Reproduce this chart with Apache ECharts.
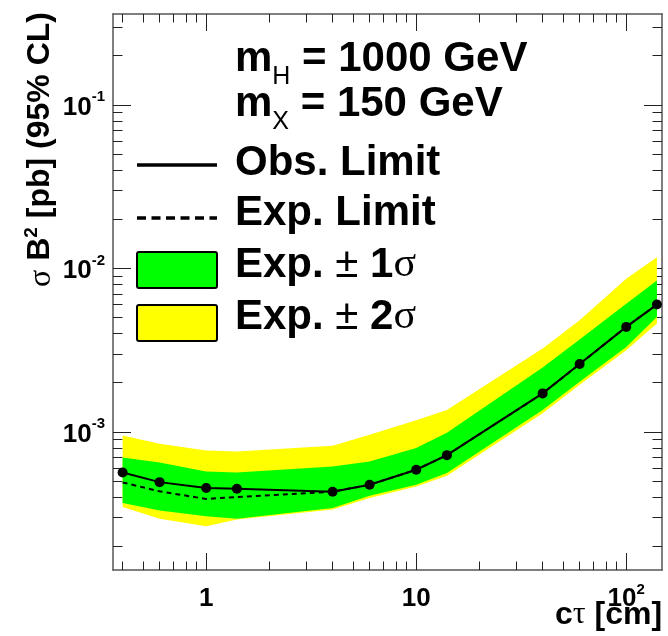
<!DOCTYPE html>
<html>
<head>
<meta charset="utf-8">
<script src="https://cdn.jsdelivr.net/npm/echarts@6/dist/echarts.min.js"></script>
<style>
  html, body { margin: 0; padding: 0; background: #fff; }
  #chart { width: 668px; height: 636px; }
</style>
</head>
<body>
<div id="chart"></div>
<script>
// ---- data ----
const CT = [0.4, 0.6, 1, 1.4, 4, 6, 10, 14, 40, 60, 100, 140];
const OBS = [5.65e-4, 4.93e-4, 4.54e-4, 4.49e-4, 4.31e-4, 4.75e-4, 5.87e-4, 7.21e-4, 1.72e-3, 2.60e-3, 4.39e-3, 6.01e-3];
const EXP = [4.91e-4, 4.33e-4, 3.89e-4, 4.00e-4, 4.31e-4, 4.75e-4, 5.87e-4, 7.21e-4, 1.72e-3, 2.60e-3, 4.39e-3, 6.01e-3];
const ONE_HI = [6.97e-4, 6.50e-4, 5.73e-4, 5.65e-4, 6.14e-4, 6.59e-4, 7.98e-4, 9.90e-4, 2.48e-3, 3.67e-3, 6.09e-3, 8.45e-3];
const ONE_LO = [3.67e-4, 3.31e-4, 3.05e-4, 2.94e-4, 3.43e-4, 4.07e-4, 4.75e-4, 5.60e-4, 1.36e-3, 2.03e-3, 3.31e-3, 5.05e-3];
const TWO_HI = [9.50e-4, 8.45e-4, 7.69e-4, 7.59e-4, 8.22e-4, 9.60e-4, 1.18e-3, 1.36e-3, 3.24e-3, 4.82e-3, 8.65e-3, 1.17e-2];
const TWO_LO = [3.47e-4, 2.94e-4, 2.65e-4, 2.91e-4, 3.35e-4, 3.94e-4, 4.64e-4, 5.39e-4, 1.30e-3, 1.94e-3, 3.16e-3, 4.60e-3];

// axis ticks
const X_MAJOR = [1, 10, 100];
const X_MINOR = [0.4, 0.5, 0.6, 0.7, 0.8, 0.9, 2, 3, 4, 5, 6, 7, 8, 9, 20, 30, 40, 50, 60, 70, 80, 90];
const Y_MAJOR = [1e-3, 1e-2, 1e-1];
const Y_MINOR = [2e-4, 3e-4, 4e-4, 5e-4, 6e-4, 7e-4, 8e-4, 9e-4,
                 2e-3, 3e-3, 4e-3, 5e-3, 6e-3, 7e-3, 8e-3, 9e-3,
                 2e-2, 3e-2, 4e-2, 5e-2, 6e-2, 7e-2, 8e-2, 9e-2, 2e-1, 3e-1];
const X_MIN = 0.36, X_MAX = 148;
const Y_MIN = 1.43e-4, Y_MAX = 0.36;

const SANS = "'Liberation Sans', Arial, sans-serif";
const SERIF = "'Liberation Serif', 'Times New Roman', serif";
const FRAME = '#555';

const chart = echarts.init(document.getElementById('chart'), null, { renderer: 'canvas' });

// band between lo and hi, drawn as one polygon through the axis scales
function band(name, lo, hi, color, z) {
  return {
    name, type: 'custom', silent: true, z,
    data: CT.map((x, i) => [x, lo[i], hi[i]]),
    encode: { x: 0, y: [1, 2] },
    renderItem: (params, api) => {
      if (params.dataIndex !== 0) return;
      const pts = [];
      CT.forEach((x, i) => pts.push(api.coord([x, hi[i]])));
      for (let i = CT.length - 1; i >= 0; i--) pts.push(api.coord([CT[i], lo[i]]));
      return { type: 'polygon', shape: { points: pts }, style: { fill: color } };
    }
  };
}

const pow10 = (v) => Math.round(Math.log10(v));
const labelRich = {
  m: { fontFamily: SANS, fontSize: 26, fontWeight: 'bold', color: '#000', lineHeight: 30, verticalAlign: 'bottom' },
  s: { fontFamily: SANS, fontSize: 15, fontWeight: 'bold', color: '#000', lineHeight: 17, verticalAlign: 'top' }
};
const yRich = {
  m: { fontFamily: SANS, fontSize: 26, fontWeight: 'bold', color: '#000', lineHeight: 30, padding: [7, 0, 0, 0], verticalAlign: 'bottom' },
  s: { fontFamily: SANS, fontSize: 15, fontWeight: 'bold', color: '#000', lineHeight: 31, verticalAlign: 'top' }
};

function logAxis(kind, pos, min, max, ticks, len, opts) {
  return Object.assign({
    type: 'log', logBase: 10, position: pos, min, max,
    axisLine: { show: false },
    axisTick: { show: true, inside: true, length: len, customValues: ticks, lineStyle: { color: '#222', width: 1 } },
    axisLabel: { show: false },
    splitLine: { show: false },
    minorTick: { show: false }
  }, opts || {});
}

const xAxes = [
  logAxis('x', 'bottom', X_MIN, X_MAX, X_MAJOR, 17, {
    axisLine: { show: true, onZero: false, lineStyle: { color: FRAME, width: 1.5 } },
    axisLabel: {
      show: true, customValues: X_MAJOR, margin: 12,
      formatter: (v) => { const p = pow10(v); return p === 0 ? '{m|1}' : p === 1 ? '{m|10}' : '{m|10}{s|' + p + '}'; },
      rich: labelRich
    }
  }),
  logAxis('x', 'bottom', X_MIN, X_MAX, X_MINOR, 8.5),
  logAxis('x', 'top', X_MIN, X_MAX, X_MAJOR, 17, { axisLine: { show: true, onZero: false, lineStyle: { color: FRAME, width: 1.5 } } }),
  logAxis('x', 'top', X_MIN, X_MAX, X_MINOR, 8.5)
];
const yAxes = [
  logAxis('y', 'left', Y_MIN, Y_MAX, Y_MAJOR, 18, {
    axisLine: { show: true, onZero: false, lineStyle: { color: FRAME, width: 1.5 } },
    axisLabel: {
      show: true, customValues: Y_MAJOR, margin: 8,
      formatter: (v) => '{m|10}{s|' + pow10(v) + '}',
      rich: yRich
    }
  }),
  logAxis('y', 'left', Y_MIN, Y_MAX, Y_MINOR, 9.5),
  logAxis('y', 'right', Y_MIN, Y_MAX, Y_MAJOR, 18, { axisLine: { show: true, onZero: false, lineStyle: { color: FRAME, width: 1.5 } } }),
  logAxis('y', 'right', Y_MIN, Y_MAX, Y_MINOR, 9.5)
];

// text runs measured on a canvas, placed by baseline
const mctx = document.createElement('canvas').getContext('2d');
function runs(parts, x0, base) {
  const out = [];
  let x = x0;
  parts.forEach((p) => {
    const font = (p.weight || 'bold') + ' ' + p.size + 'px ' + (p.family || SANS);
    mctx.font = font;
    const w = mctx.measureText(p.t).width;
    out.push({
      type: 'text', x: x, y: base + (p.dy || 0) - 0.35 * p.size, silent: true, z: 100,
      style: { text: p.t, font: font, fill: '#000', align: 'left', verticalAlign: 'middle' }
    });
    x += w;
  });
  return out;
}

const LX = 235, BIG = 42;
const graphics = [].concat(
  runs([{ t: 'm', size: BIG }, { t: 'H', size: 25, weight: 'normal', dy: 12 }, { t: ' = 1000 GeV', size: BIG }], LX, 74),
  runs([{ t: 'm', size: BIG }, { t: 'X', size: 25, weight: 'normal', dy: 12 }, { t: ' = 150 GeV', size: BIG }], LX, 119),
  runs([{ t: 'Obs. Limit', size: BIG }], LX, 178),
  runs([{ t: 'Exp. Limit', size: BIG }], LX, 228),
  runs([{ t: 'Exp. ', size: BIG }, { t: '\u00b1 ', size: BIG, weight: 'normal' }, { t: '1', size: BIG }, { t: '\u03c3', size: BIG, weight: 'normal', family: SERIF }], LX, 280),
  runs([{ t: 'Exp. ', size: BIG }, { t: '\u00b1 ', size: BIG, weight: 'normal' }, { t: '2', size: BIG }, { t: '\u03c3', size: BIG, weight: 'normal', family: SERIF }], LX, 332),
  runs([{ t: 'c', size: 32 }, { t: '\u03c4', size: 32, weight: 'normal', family: SERIF }, { t: ' [cm]', size: 32 }], 555, 626),
  [
    // legend symbols
    { type: 'line', silent: true, z: 100, shape: { x1: 137, y1: 165, x2: 217, y2: 165 }, style: { stroke: '#000', lineWidth: 3.5 } },
    { type: 'line', silent: true, z: 100, shape: { x1: 137, y1: 218, x2: 217, y2: 218 }, style: { stroke: '#000', lineWidth: 3.5, lineDash: [9, 5.5] } },
    { type: 'rect', silent: true, z: 100, shape: { x: 137, y: 252, width: 80, height: 36, r: 2 }, style: { fill: '#00ff00', stroke: '#000', lineWidth: 2 } },
    { type: 'rect', silent: true, z: 100, shape: { x: 137, y: 305, width: 80, height: 36, r: 2 }, style: { fill: '#ffff00', stroke: '#000', lineWidth: 2 } },
    // y axis title
    {
      type: 'text', silent: true, z: 100, x: 40, y: 12, rotation: Math.PI / 2,
      style: {
        text: '{g|\u03c3} B{s|2} [pb] (95% CL)', align: 'right', verticalAlign: 'middle',
        font: 'bold 32px ' + SANS, fill: '#000',
        rich: {
          g: { fontFamily: SERIF, fontSize: 32, fontWeight: 'normal', lineHeight: 36, verticalAlign: 'bottom' },
          s: { fontFamily: SANS, fontSize: 19, fontWeight: 'bold', lineHeight: 23, verticalAlign: 'top' }
        }
      }
    }
  ]
);

chart.setOption({
  animation: false,
  backgroundColor: '#fff',
  grid: { left: 113, right: 6, top: 14, bottom: 66, containLabel: false },
  xAxis: xAxes,
  yAxis: yAxes,
  series: [
    band('Exp. \u00b1 2\u03c3', TWO_LO, TWO_HI, '#ffff00', 1),
    band('Exp. \u00b1 1\u03c3', ONE_LO, ONE_HI, '#00ff00', 2),
    {
      name: 'Exp. Limit', type: 'line', z: 3, symbol: 'none',
      data: CT.map((x, i) => [x, EXP[i]]),
      lineStyle: { color: '#000', width: 2, type: [5, 4] }
    },
    {
      name: 'Obs. Limit', type: 'line', z: 4, symbol: 'circle', symbolSize: 10,
      data: CT.map((x, i) => [x, OBS[i]]),
      lineStyle: { color: '#000', width: 2 },
      itemStyle: { color: '#000' }
    }
  ],
  graphic: graphics
});
</script>
</body>
</html>
